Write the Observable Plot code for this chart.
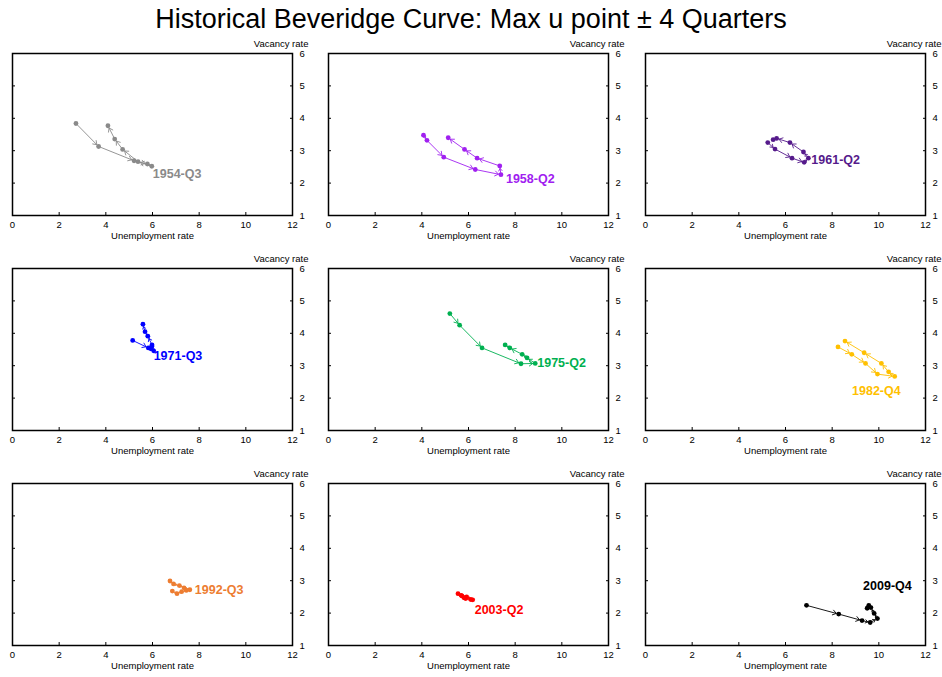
<!DOCTYPE html>
<html>
<head>
<meta charset="utf-8">
<script src="https://cdn.jsdelivr.net/npm/d3@7"></script>
<script src="https://cdn.jsdelivr.net/npm/@observablehq/plot@0.6"></script>
<style>
  html, body { margin: 0; padding: 0; background: #fff; }
  body { width: 942px; height: 677px; position: relative; overflow: hidden; font-family: "Liberation Sans", Arial, sans-serif; }
  #title { position: absolute; left: 0; top: 4px; width: 942px; text-align: center; font-size: 27px; line-height: 31px; color: #000; }
  .panel { position: absolute; }
</style>
</head>
<body>
<div id="title">Historical Beveridge Curve: Max u point ± 4 Quarters</div>
<div id="grid"></div>
<script>
// ---- data ----
const periods = ["1954-Q3", "1958-Q2", "1961-Q2", "1971-Q3", "1975-Q2", "1982-Q4", "1992-Q3", "2003-Q2", "2009-Q4"];
const xTicks = [0, 2, 4, 6, 8, 10, 12];
const yTicks = [1, 2, 3, 4, 5, 6];
const xLabel = "Unemployment rate";
const yLabel = "Vacancy rate";

const u1954 = [2.72, 3.69, 5.21, 5.78, 5.97, 5.38, 4.72, 4.38, 4.09];
const v1954 = [3.84, 3.13, 2.69, 2.59, 2.52, 2.66, 3.04, 3.36, 3.77];
const u1958 = [4.07, 4.22, 4.94, 6.29, 7.39, 7.34, 6.37, 5.83, 5.13];
const v1958 = [3.48, 3.32, 2.80, 2.42, 2.26, 2.53, 2.77, 3.04, 3.40];
const u1961 = [5.24, 5.55, 6.28, 6.80, 6.98, 6.77, 6.19, 5.62, 5.47];
const v1961 = [3.25, 3.05, 2.77, 2.64, 2.77, 2.96, 3.25, 3.38, 3.34];
const u1971 = [5.15, 5.82, 5.93, 5.97, 6.05, 5.98, 5.80, 5.68, 5.59];
const v1971 = [3.78, 3.55, 3.52, 3.60, 3.46, 3.64, 3.91, 4.05, 4.28];
const u1975 = [5.20, 5.62, 6.58, 8.25, 8.86, 8.51, 8.30, 7.77, 7.57];
const v1975 = [4.61, 4.25, 3.55, 3.06, 3.07, 3.24, 3.35, 3.55, 3.64];
const u1982 = [8.25, 8.84, 9.43, 9.94, 10.68, 10.42, 10.11, 9.37, 8.55];
const v1982 = [3.58, 3.35, 3.07, 2.74, 2.67, 2.81, 3.07, 3.40, 3.76];
const u1992 = [6.75, 6.90, 7.15, 7.35, 7.60, 7.45, 7.25, 7.05, 6.85];
const v1992 = [2.99, 2.90, 2.85, 2.78, 2.72, 2.70, 2.66, 2.60, 2.68];
const u2003 = [5.80, 5.72, 5.88, 5.92, 6.18, 6.10, 5.83, 5.68, 5.55];
const v2003 = [2.48, 2.53, 2.45, 2.50, 2.41, 2.42, 2.47, 2.55, 2.60];
const u2009 = [6.90, 8.28, 9.28, 9.63, 9.94, 9.80, 9.66, 9.50, 9.57];
const v2009 = [2.24, 1.97, 1.77, 1.71, 1.83, 1.99, 2.17, 2.15, 2.24];

const uSeries = [u1954, u1958, u1961, u1971, u1975, u1982, u1992, u2003, u2009];
const vSeries = [v1954, v1958, v1961, v1971, v1975, v1982, v1992, v2003, v2009];

// ---- styles ----
const colors = ["#8a8a8a", "#a020f0", "#551a8b", "#0000ff", "#00b050", "#ffc000", "#ed7d31", "#ff0000", "#000000"];
const labelStyle = [
  {anchor: "start", dx: 1, dy: 8},
  {anchor: "start", dx: 5, dy: 4},
  {anchor: "start", dx: 3, dy: 2},
  {anchor: "start", dx: 0, dy: 5},
  {anchor: "start", dx: 2, dy: 0},
  {anchor: "end", dx: 6, dy: 15},
  {anchor: "start", dx: 5, dy: 0},
  {anchor: "start", dx: 2, dy: 10},
  {anchor: "middle", dx: 10, dy: -33}
];
const colLeft = [0, 316, 633];
const rowTop = [31, 246, 461];
const font = "Liberation Sans, Arial, sans-serif";

const grid = document.getElementById("grid");
periods.forEach((period, i) => {
  const pts = uSeries[i].map((u, j) => ({u, v: vSeries[i][j]}));
  const segs = d3.pairs(pts).map(([a, b]) => ({x1: a.u, y1: a.v, x2: b.u, y2: b.v}));
  const maxIdx = d3.maxIndex(pts, d => d.u);
  const color = colors[i];
  const ls = labelStyle[i];
  const chart = Plot.plot({
    width: 309,
    height: 215,
    marginTop: 22,
    marginBottom: 31,
    marginLeft: 12,
    marginRight: 17,
    style: {fontFamily: font, fontSize: "9.5px", color: "#000", background: "transparent", overflow: "visible"},
    x: {domain: [0, 12]},
    y: {domain: [1, 6]},
    marks: [
      Plot.axisX({anchor: "bottom", ticks: xTicks, tickFormat: "d", tickSize: -3, tickPadding: 9, label: xLabel, labelAnchor: "center", labelOffset: 23, labelArrow: "none", fontSize: 9.5}),
      Plot.axisY({anchor: "right", ticks: yTicks, tickFormat: "d", tickSize: -3, tickPadding: 10, label: null, fontSize: 9.5}),
      Plot.axisY({anchor: "left", ticks: yTicks, tickSize: -3, tickFormat: () => "", label: null}),
      Plot.text([yLabel], {frameAnchor: "top-right", text: d => d, textAnchor: "end", lineAnchor: "middle", dx: 16, dy: -10, fontSize: 9.5, fill: "#000"}),
      Plot.frame({stroke: "#000", strokeWidth: 1.5}),
      Plot.arrow(segs, {x1: "x1", y1: "y1", x2: "x2", y2: "y2", stroke: color, strokeWidth: 0.9, headLength: 7, headAngle: 70, insetEnd: 2.5}),
      Plot.dot(pts, {x: "u", y: "v", r: 2.4, fill: color, stroke: "none"}),
      Plot.text([pts[maxIdx]], {x: "u", y: "v", text: () => period, fill: color, fontWeight: "bold", fontSize: 12.5, textAnchor: ls.anchor, dx: ls.dx, dy: ls.dy})
    ]
  });
  const div = document.createElement("div");
  div.className = "panel";
  div.style.left = colLeft[i % 3] + "px";
  div.style.top = rowTop[Math.floor(i / 3)] + "px";
  div.appendChild(chart);
  grid.appendChild(div);
});
</script>
</body>
</html>
